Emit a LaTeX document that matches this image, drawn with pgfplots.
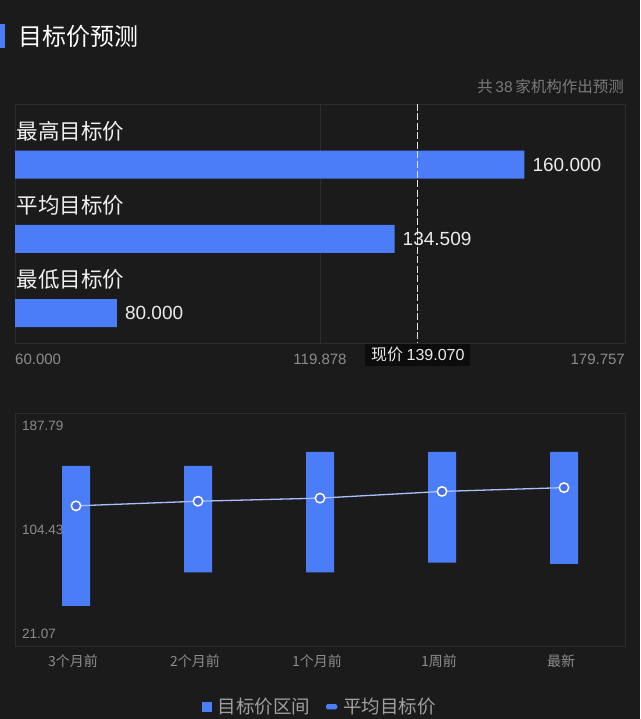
\documentclass[border=0pt]{standalone}
\usepackage{pgfplots}
\pgfplotsset{compat=1.18}
\usepackage{pgfplotstable}
\usepackage{fontspec}
\setmainfont{Noto Sans CJK SC}
\newfontfamily\nf{Liberation Sans}
\definecolor{bg}{HTML}{1B1B1B}
\definecolor{barblue}{HTML}{4A7DF7}
\definecolor{framec}{HTML}{2C2C2C}
\definecolor{tickgray}{HTML}{8C8C8C}
\definecolor{subgray}{HTML}{7A7A7A}
\definecolor{leggray}{HTML}{A0A0A0}
\definecolor{linecol}{HTML}{A9BFFF}
\definecolor{markfill}{HTML}{4A6CE8}
\definecolor{boxbg}{HTML}{0C0C0C}

\pgfplotstableread{
x low high mean
0 50 150 121.5
1 74 150 124.8
2 74 160 127.0
3 81 160 131.8
4 80 160 134.509
}\rangedata

\begin{document}
\begin{tikzpicture}
\fill[bg] (0pt,0pt) rectangle (640pt,-719pt);
% title
\fill[barblue] (0pt,-24pt) rectangle (4.5pt,-48pt);
\node[anchor=west, text=white, inner sep=0pt] at (18pt,-36pt) {\fontsize{24}{24}\selectfont 目标价预测};
\node[anchor=east, text=subgray, inner sep=0pt] at (624pt,-87pt) {\fontsize{15.5}{15.5}\selectfont 共\,{\nf 38}\,家机构作出预测};

% bottom y labels (behind bars)
\node[anchor=west, text=tickgray, inner sep=0pt] at (22pt,-426pt) {\nf\fontsize{13.5}{13.5}\selectfont 187.79};
\node[anchor=west, text=tickgray, inner sep=0pt] at (22pt,-530pt) {\nf\fontsize{13.5}{13.5}\selectfont 104.43};
\node[anchor=west, text=tickgray, inner sep=0pt] at (22pt,-634pt) {\nf\fontsize{13.5}{13.5}\selectfont 21.07};

% ---------- top chart ----------
\begin{axis}[
  at={(15pt,-104pt)}, anchor=north west,
  scale only axis, width=610pt, height=239pt,
  xbar, bar width=28pt,
  xmin=60, xmax=179.757, ymin=-0.404, ymax=2.818,
  axis line style={draw=framec, line width=0.8pt},
  xtick={119.878}, xticklabels={}, xmajorgrids,
  grid style={draw=framec, line width=0.8pt},
  major tick length=0pt, ytick=\empty,
  clip mode=individual,
  point meta=explicit symbolic,
  nodes near coords,
  nodes near coords style={anchor=west, inner sep=0pt, xshift=8pt, text=white!92!black,
     font=\nf\fontsize{19}{19}\selectfont},
]
\addplot[fill=barblue, draw=none] coordinates {
  (160,2) [160.000]
  (134.509,1) [134.509]
  (80,0) [80.000]
};
\node[anchor=west, inner sep=0pt, text=white!94!black] at (axis cs:60,2) [xshift=1.5pt, yshift=33.7pt] {\fontsize{21.5}{21.5}\selectfont 最高目标价};
\node[anchor=west, inner sep=0pt, text=white!94!black] at (axis cs:60,1) [xshift=1.5pt, yshift=33.7pt] {\fontsize{21.5}{21.5}\selectfont 平均目标价};
\node[anchor=west, inner sep=0pt, text=white!94!black] at (axis cs:60,0) [xshift=1.5pt, yshift=33.7pt] {\fontsize{21.5}{21.5}\selectfont 最低目标价};
\draw[white!90!black, line width=1.1pt, dash pattern=on 7pt off 2.5pt] (axis cs:139.07,2.818) -- (axis cs:139.07,-0.404);
\node[anchor=west, inner sep=0pt, text=tickgray] at (axis cs:60,-0.404) [yshift=-16pt] {\nf\fontsize{15}{15}\selectfont 60.000};
\node[anchor=center, inner sep=0pt, text=tickgray] at (axis cs:119.878,-0.404) [yshift=-16pt] {\nf\fontsize{15}{15}\selectfont 119.878};
\node[anchor=east, inner sep=0pt, text=tickgray] at (axis cs:179.757,-0.404) [yshift=-16pt] {\nf\fontsize{15}{15}\selectfont 179.757};
\node[anchor=north, fill=boxbg, text=white!92!black, inner xsep=6pt, inner ysep=0pt, minimum height=21.5pt] at (axis cs:139.07,-0.404) [yshift=-1pt] {\fontsize{16}{16}\selectfont 现价 {\nf 139.070}};
\end{axis}

% ---------- bottom chart: bars ----------
\begin{axis}[
  at={(15pt,-413pt)}, anchor=north west,
  scale only axis, width=610pt, height=233.5pt,
  ybar stacked, bar width=28pt,
  xmin=-0.5, xmax=4.5, ymin=21.07, ymax=187.79,
  axis line style={draw=framec, line width=0.8pt},
  ytick=\empty, xtick={0,1,2,3,4},
  xticklabels={3个月前,2个月前,1个月前,1周前,最新},
  major tick length=0pt,
  xticklabel style={anchor=north, inner sep=0pt, yshift=-8pt, xshift=-3pt, text=tickgray, font=\fontsize{14}{14}\selectfont},
]
\addplot[draw=none, fill=none, forget plot] table[x=x, y=low] {\rangedata};
\addplot[fill=barblue, draw=none, forget plot] table[x=x, y expr=\thisrow{high}-\thisrow{low}] {\rangedata};
\end{axis}

% ---------- bottom chart: mean line + legend ----------
\begin{axis}[
  at={(15pt,-413pt)}, anchor=north west,
  scale only axis, width=610pt, height=233.5pt,
  xmin=-0.5, xmax=4.5, ymin=21.07, ymax=187.79,
  hide axis, clip=false,
  legend columns=2,
  legend style={at={(0.5,-0.258)}, anchor=center, draw=none, fill=none,
     text=leggray, font=\fontsize{18.5}{18.5}\selectfont,
     /tikz/every even column/.append style={column sep=14pt}},
]
\addlegendimage{legend image code/.code={\fill[barblue] (0pt,-4.5pt) rectangle (9pt,4.5pt);}}
\addlegendentry{\hspace{4pt}目标价区间}
\addplot[linecol, line width=1.3pt, mark=*, mark size=4.7pt,
   mark options={draw=white, fill=markfill, line width=1.5pt},
   legend image code/.code={\fill[barblue, rounded corners=1.2pt] (0pt,-2pt) rectangle (10pt,2pt);}]
   table[x=x, y=mean] {\rangedata};
\addlegendentry{\hspace{4pt}平均目标价}
\end{axis}

\pgfresetboundingbox
\useasboundingbox (0pt,0pt) rectangle (640pt,-719pt);
\end{tikzpicture}
\end{document}
